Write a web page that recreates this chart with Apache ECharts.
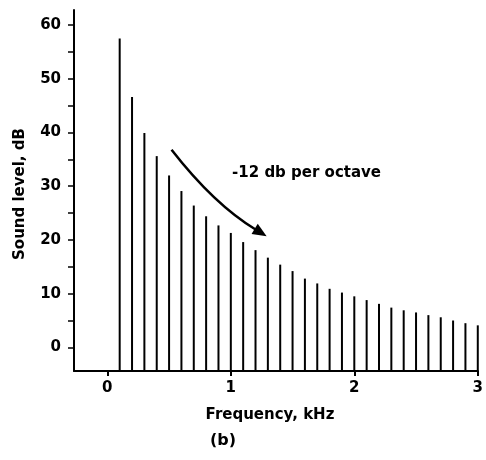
<!DOCTYPE html>
<html>
<head>
<meta charset="utf-8">
<script src="https://cdn.jsdelivr.net/npm/echarts@6/dist/echarts.min.js"></script>
<style>html,body{margin:0;padding:0;background:#fff;}#c{width:486px;height:460px;}</style>
</head>
<body>
<div id="c"></div>
<script>
// Harmonic frequencies (kHz)
const frequencies = [0.1,0.2,0.3,0.4,0.5,0.6,0.7,0.8,0.9,1.0,1.1,1.2,1.3,1.4,1.5,1.6,1.7,1.8,1.9,2.0,2.1,2.2,2.3,2.4,2.5,2.6,2.7,2.8,2.9,3.0];
// Sound levels (dB)
const levels = [57.5,46.6,39.9,35.6,32.0,29.1,26.4,24.4,22.7,21.3,19.6,18.1,16.7,15.4,14.2,12.8,11.9,10.9,10.2,9.5,8.8,8.1,7.4,6.9,6.5,6.0,5.6,5.0,4.5,4.1];
const xTicks = [0,1,2,3];
const yTickLabels = [0,10,20,30,40,50,60];
const yMinorTicks = [0,5,10,15,20,25,30,35,40,45,50,55,60];
const X_MIN = -0.27, X_MAX = 3.0, Y_MIN = -4.4, Y_MAX = 62.8;
const FONT = '"DejaVu Sans", "Liberation Sans", sans-serif';

const chart = echarts.init(document.getElementById('c'));
const data = frequencies.map((f,i)=>[f, levels[i]]);

chart.setOption({
  animation:false,
  backgroundColor:'#fff',
  grid:{left:74,right:8,top:10,bottom:89},
  xAxis:{
    type:'value', min:X_MIN, max:X_MAX,
    axisLine:{show:true,onZero:false,lineStyle:{color:'#000',width:2}},
    axisTick:{show:true,length:5,lineStyle:{color:'#000',width:2},customValues:xTicks},
    axisLabel:{customValues:xTicks,color:'#000',fontFamily:FONT,fontWeight:'bold',fontSize:15,margin:10},
    splitLine:{show:false}
  },
  yAxis:{
    type:'value', min:Y_MIN, max:Y_MAX,
    axisLine:{show:true,onZero:false,lineStyle:{color:'#000',width:2}},
    axisTick:{show:true,length:6,lineStyle:{color:'#000',width:1.5},customValues:yMinorTicks},
    axisLabel:{customValues:yTickLabels,color:'#000',fontFamily:FONT,fontWeight:'bold',fontSize:15,margin:13},
    splitLine:{show:false}
  },
  series:[{
    type:'custom',
    data:data,
    renderItem:function(params, api){
      const x = api.value(0), y = api.value(1);
      const top = api.coord([x,y]);
      const bot = api.coord([x,Y_MIN]);
      return {type:'line',shape:{x1:top[0],y1:top[1],x2:bot[0],y2:bot[1]},style:{stroke:'#000',lineWidth:2}};
    }
  }]
});

// annotation arrow & texts, positioned from data coordinates
const p0 = chart.convertToPixel({gridIndex:0},[0.52,36.8]);
const pc = chart.convertToPixel({gridIndex:0},[0.865,26.6]);
const p1 = chart.convertToPixel({gridIndex:0},[1.29,20.7]);
const ang = Math.atan2(p1[1]-pc[1], p1[0]-pc[0]);
const L = 14, W = 6;
const bx = p1[0]-L*Math.cos(ang), by = p1[1]-L*Math.sin(ang);
const head = [[p1[0],p1[1]],[bx+W*Math.sin(ang),by-W*Math.cos(ang)],[bx-W*Math.sin(ang),by+W*Math.cos(ang)]];
const shaftEnd = [p1[0]-(L-2)*Math.cos(ang), p1[1]-(L-2)*Math.sin(ang)];
const tp = chart.convertToPixel({gridIndex:0},[1.01,32.4]);

chart.setOption({
  graphic:[
    {type:'bezierCurve',shape:{x1:p0[0],y1:p0[1],cpx1:pc[0],cpy1:pc[1],x2:shaftEnd[0],y2:shaftEnd[1]},style:{stroke:'#000',lineWidth:2.5,fill:null}},
    {type:'polygon',shape:{points:head},style:{fill:'#000'}},
    {type:'text',x:tp[0],y:tp[1],style:{text:'-12 db per octave',font:'bold 15px '+FONT,fill:'#000',textVerticalAlign:'middle',textAlign:'left'}},
    {type:'text',x:270,y:415,style:{text:'Frequency, kHz',font:'bold 15px '+FONT,fill:'#000',textAlign:'center',textVerticalAlign:'middle'}},
    {type:'text',x:223,y:441,style:{text:'(b)',font:'bold 16px '+FONT,fill:'#000',textAlign:'center',textVerticalAlign:'middle'}},
    {type:'text',x:20,y:194,rotation:Math.PI/2,style:{text:'Sound level, dB',font:'bold 15px '+FONT,fill:'#000',textAlign:'center',textVerticalAlign:'middle'}}
  ]
});
</script>
</body>
</html>
